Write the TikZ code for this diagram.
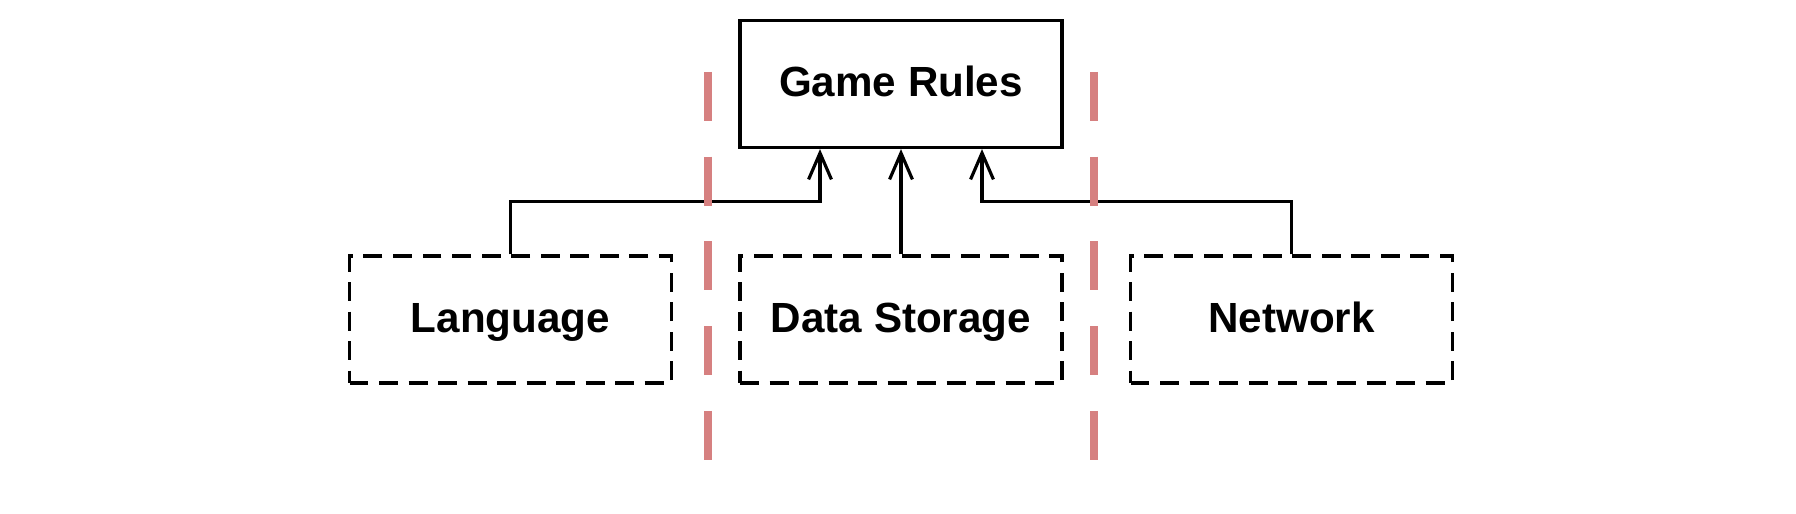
\documentclass[tikz,border=0pt]{standalone}
\usepackage{fontspec}
\setmainfont{Liberation Sans}
\usetikzlibrary{arrows.meta}
\definecolor{splitred}{RGB}{214,128,128}

\begin{document}
\begin{tikzpicture}[
        module/.style={draw, line width=0.9pt, minimum width=3.22cm, minimum height=1.27cm,
            text height=0.8em, text depth=0.08em,
            font=\bfseries\fontsize{12}{14}\selectfont},
        plugin/.style={module, dash pattern=on 5.4pt off 3pt},
        uses/.style={line width=0.9pt, -{Straight Barb[length=7.5pt,width=6.5pt]}},
        border/.style={splitred, line width=2.4pt, dash pattern=on 13.9pt off 10.2pt}
    ]
        \useasboundingbox (0,0) rectangle (17.96,5.14);
        \node[module] (rules) at (9.01,4.30) {Game Rules};
        \node[plugin] (language) at (5.105,1.945) {Language};
        \node[plugin] (storage) at (9.01,1.945) {Data Storage};
        \node[plugin] (network) at (12.915,1.945) {Network};
        \draw[uses] (language.north) -- ++(0,0.53) -| ([xshift=-0.81cm]rules.south);
        \draw[uses] (storage.north) -- (rules.south);
        \draw[uses] (network.north) -- ++(0,0.53) -| ([xshift=0.81cm]rules.south);
        \draw[border] (7.08,4.42) -- (7.08,0.51);
        \draw[border] (10.94,4.42) -- (10.94,0.51);
    \end{tikzpicture}
\end{document}
